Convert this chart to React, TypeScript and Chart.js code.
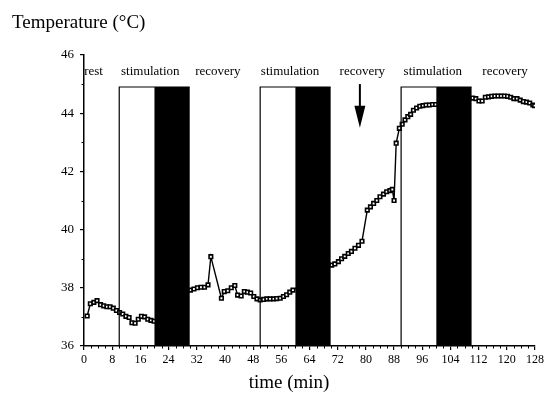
import React, { useEffect, useRef } from "react";
import { Chart, registerables } from "chart.js";

Chart.register(...registerables);

// time (min)
const times = [
  0.9, 1.8, 2.8, 3.7, 4.7, 5.6, 6.5, 7.4, 8.3, 9.2, 10.1, 11.0, 11.9, 12.8, 13.6, 14.5, 15.4, 16.3, 17.2, 18.1, 19.0, 19.9,
  30.2, 31.2, 32.2, 33.2, 34.2, 35.2, 36.0, 39.0, 39.8, 40.8, 41.8, 42.8, 43.6, 44.6, 45.5, 46.4, 47.3, 48.2, 49.1,
  50.0, 51.0, 51.9, 52.8, 53.8, 54.7, 55.7, 56.6, 57.5, 58.4, 59.3,
  70.3, 71.2, 72.2, 73.1, 74.0, 75.0, 75.9, 76.9, 77.9, 78.9, 80.4, 81.3, 82.2, 83.1, 84.0, 85.0, 85.9, 86.8, 87.5, 88.0,
  88.6, 89.5, 90.3, 91.1, 91.9, 92.7, 93.5, 94.4, 95.3, 96.2, 97.1, 98.0, 98.9, 99.8,
  110.3, 111.2, 112.1, 113.0, 113.9, 114.8, 115.7, 116.6, 117.5, 118.4, 119.3, 120.2, 121.1, 122.0, 122.9, 123.8, 124.7,
  125.6, 126.5, 127.4, 127.9,
];
// Temperature (°C)
const temps = [
  37.03, 37.45, 37.5, 37.56, 37.42, 37.38, 37.35, 37.35, 37.3, 37.22, 37.15, 37.1, 37.02, 36.98, 36.8, 36.78, 36.92, 37.02, 37.0, 36.92, 36.88, 36.85,
  37.92, 37.96, 38.0, 38.02, 38.02, 38.1, 39.07, 37.64, 37.87, 37.9, 38.0, 38.08, 37.75, 37.72, 37.87, 37.85, 37.82, 37.7, 37.62,
  37.58, 37.6, 37.62, 37.62, 37.62, 37.63, 37.64, 37.7, 37.76, 37.85, 37.92,
  38.78, 38.82, 38.9, 39.0, 39.08, 39.18, 39.25, 39.36, 39.46, 39.6, 40.67, 40.78, 40.9, 41.0, 41.13, 41.22, 41.3, 41.34, 41.38, 41.0,
  42.97, 43.48, 43.62, 43.77, 43.88, 43.96, 44.1, 44.18, 44.24, 44.26, 44.28, 44.28, 44.3, 44.3,
  44.52, 44.5, 44.42, 44.42, 44.55, 44.56, 44.58, 44.59, 44.59, 44.59, 44.59, 44.58, 44.55, 44.5, 44.5, 44.45, 44.4,
  44.38, 44.35, 44.28, 44.26,
];

// phases (min)
const stimStarts = [10, 50, 90];
const heatStarts = [20, 60, 100];
const heatEnds = [30, 70, 110];
const boxTop = 44.9;
const phaseLabels = ["rest", "stimulation", "recovery", "stimulation", "recovery", "stimulation", "recovery"];
const phaseLabelTimes = [2.7, 18.8, 38, 58.5, 79, 99, 119.5];
const phaseLabelValue = 45.42;
const arrowTime = 78.3;
const arrowFrom = 45.0;
const arrowTo = 43.5;

const xMin = 0;
const xMax = 128;
const xStep = 8;
const yMin = 36;
const yMax = 46;
const yStep = 2;

const SERIF = "'Liberation Serif', 'DejaVu Serif', serif";

const overlay = {
  id: "overlay",
  afterDatasetsDraw(chart: any) {
    const { ctx, scales } = chart;
    const x = scales.x;
    const y = scales.y;
    const y0 = y.getPixelForValue(yMin);
    const yt = y.getPixelForValue(boxTop);
    ctx.save();
    ctx.strokeStyle = "#000";
    ctx.lineWidth = 1.2;
    for (let i = 0; i < stimStarts.length; i++) {
      const xs = x.getPixelForValue(stimStarts[i]);
      const xe = x.getPixelForValue(heatEnds[i]);
      ctx.beginPath();
      ctx.moveTo(xs, y0);
      ctx.lineTo(xs, yt);
      ctx.lineTo(xe, yt);
      ctx.stroke();
    }
    ctx.fillStyle = "#000";
    for (let i = 0; i < heatStarts.length; i++) {
      const xs = x.getPixelForValue(heatStarts[i]);
      const xe = x.getPixelForValue(heatEnds[i]);
      ctx.fillRect(xs, yt, xe - xs, y0 - yt);
    }
    ctx.font = `13px ${SERIF}`;
    ctx.textAlign = "center";
    ctx.textBaseline = "middle";
    for (let i = 0; i < phaseLabels.length; i++) {
      ctx.fillText(phaseLabels[i], x.getPixelForValue(phaseLabelTimes[i]), y.getPixelForValue(phaseLabelValue));
    }
    const ax = x.getPixelForValue(arrowTime);
    const ay1 = y.getPixelForValue(arrowFrom);
    const ay2 = y.getPixelForValue(arrowTo);
    ctx.lineWidth = 2;
    ctx.beginPath();
    ctx.moveTo(ax, ay1);
    ctx.lineTo(ax, ay2 - 16);
    ctx.stroke();
    ctx.beginPath();
    ctx.moveTo(ax - 5.5, ay2 - 22);
    ctx.lineTo(ax + 5.5, ay2 - 22);
    ctx.lineTo(ax, ay2);
    ctx.closePath();
    ctx.fill();
    ctx.restore();
  },
  afterDraw(chart: any) {
    const { ctx, scales } = chart;
    const x = scales.x;
    const y = scales.y;
    ctx.save();
    ctx.strokeStyle = "#000";
    ctx.lineWidth = 1;
    const yb = y.getPixelForValue(yMin);
    for (let t = xMin; t <= xMax; t += 2) {
      if (t % xStep === 0) continue;
      const px = Math.round(x.getPixelForValue(t)) + 0.5;
      ctx.beginPath();
      ctx.moveTo(px, yb);
      ctx.lineTo(px, yb + 2.5);
      ctx.stroke();
    }
    const xl = x.getPixelForValue(xMin);
    for (let v = yMin + 1; v < yMax; v += 2) {
      const py = Math.round(y.getPixelForValue(v)) + 0.5;
      ctx.beginPath();
      ctx.moveTo(xl, py);
      ctx.lineTo(xl - 2.5, py);
      ctx.stroke();
    }
    ctx.fillStyle = "#000";
    ctx.font = `19px ${SERIF}`;
    ctx.textAlign = "left";
    ctx.textBaseline = "alphabetic";
    ctx.fillText("Temperature (°C)", 12, 28);
    ctx.textAlign = "center";
    ctx.fillText("time (min)", 289, 388);
    ctx.restore();
  },
};

export default function App() {
  const ref = useRef<HTMLCanvasElement>(null);
  useEffect(() => {
    document.body.style.margin = "0";
    const canvas = ref.current;
    if (!canvas) return;
    const chart = new Chart(canvas, {
      type: "line",
      data: {
        datasets: [
          {
            data: times.map((t, i) => ({ x: t, y: temps[i] })),
            borderColor: "#000",
            borderWidth: 1.4,
            pointStyle: "rect",
            pointRadius: 2.5,
            pointBackgroundColor: "#fff",
            pointBorderColor: "#000",
            pointBorderWidth: 1.6,
            tension: 0,
            fill: false,
          },
        ],
      },
      options: {
        animation: false,
        responsive: false,
        devicePixelRatio: 1,
        layout: { padding: { top: 55, right: 23, left: 0, bottom: 0 } },
        plugins: { legend: { display: false }, title: { display: false }, tooltip: { enabled: false } },
        scales: {
          x: {
            type: "linear",
            min: xMin,
            max: xMax,
            ticks: { stepSize: xStep, color: "#000", font: { family: SERIF, size: 12 }, padding: 3, maxRotation: 0 },
            grid: { drawOnChartArea: false, color: "#000", tickLength: 4, lineWidth: 1.2 },
            border: { color: "#000", width: 1.5 },
            afterFit: (s: any) => {
              s.height = 57;
            },
          },
          y: {
            min: yMin,
            max: yMax,
            ticks: { stepSize: yStep, color: "#000", font: { family: SERIF, size: 13 }, padding: 6 },
            grid: { drawOnChartArea: false, color: "#000", tickLength: 4, lineWidth: 1.2 },
            border: { color: "#000", width: 1.5 },
            afterFit: (s: any) => {
              s.width = 84;
            },
          },
        },
      },
      plugins: [overlay],
    });
    return () => chart.destroy();
  }, []);
  return (
    <div style={{ position: "absolute", left: 0, top: 0, width: 558, height: 403, background: "#fff" }}>
      <canvas ref={ref} width={558} height={403} />
    </div>
  );
}
